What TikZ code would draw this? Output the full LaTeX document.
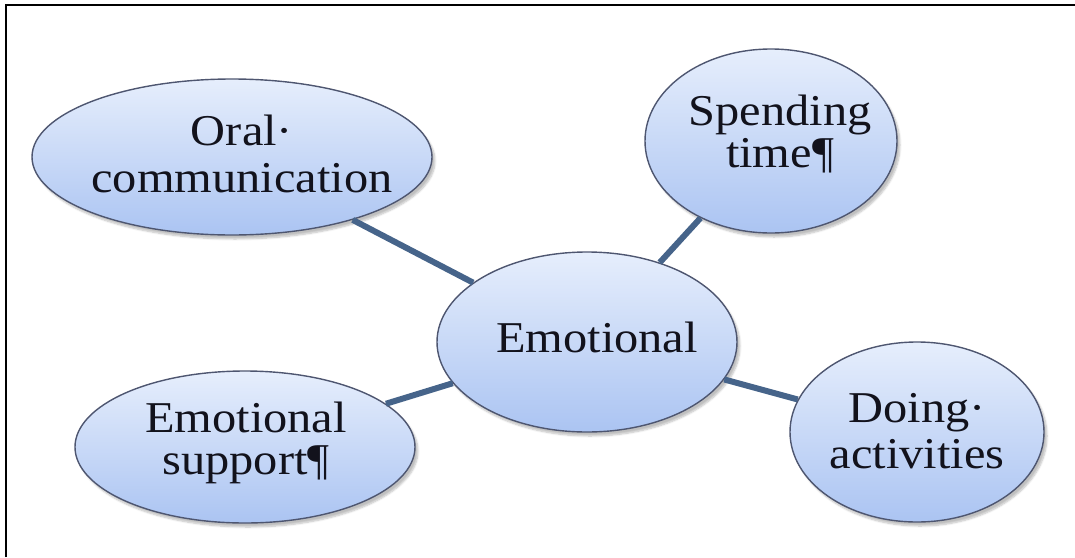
\documentclass[tikz,border=0pt]{standalone}
\usepackage{fontspec}
\setmainfont{Liberation Serif}[FakeStretch=1.1]
\usetikzlibrary{shapes.geometric,shadows.blur}
\definecolor{bubbletop}{HTML}{E6EEFC}
\definecolor{bubblebot}{HTML}{ABC4F2}
\definecolor{bubbleedge}{HTML}{4E5670}
\definecolor{linkcol}{HTML}{46648A}
\definecolor{inkcol}{HTML}{12121C}
\tikzset{
  bubble/.style={ellipse, draw=bubbleedge, line width=1.4pt, inner sep=0pt,
    top color=bubbletop, bottom color=bubblebot,
    blur shadow={shadow blur steps=6, shadow xshift=3pt, shadow yshift=-4pt, shadow opacity=25}},
  caption/.style={text=inkcol, align=center, inner sep=0pt, anchor=base,
    font=\fontsize{44}{#1}\selectfont},
  caption/.default=46,
  link/.style={draw=linkcol, line width=6pt},
  frameline/.style={line width=2.2pt, black}
}
\begin{document}
\begin{tikzpicture}[x=1pt,y=-1pt]
  \useasboundingbox (0,0) rectangle (1075,557);
  % frame
  \draw[frameline] (6,557) -- (6,5) -- (1075,5);
  % bubbles
  \node[bubble, minimum width=400pt, minimum height=156pt] (oral) at (232,157) {};
  \node[bubble, minimum width=252pt, minimum height=184pt] (spend) at (771,141) {};
  \node[bubble, minimum width=300pt, minimum height=180pt] (emo) at (587,342) {};
  \node[bubble, minimum width=340pt, minimum height=152pt] (supp) at (245,447) {};
  \node[bubble, minimum width=254pt, minimum height=180pt] (doing) at (917,432) {};
  % bubble captions (placed by last baseline)
  \node[caption=47] (oraltxt) at (242,192) {Oral·\\communication};
  \node[caption=42] (spendtxt) at (780,167) {Spending\\time¶};
  \node[caption] (emotxt) at (597,352) {Emotional};
  \node[caption=42] (supptxt) at (246,474) {Emotional\\support¶};
  \node[caption=46] (doingtxt) at (917,468) {Doing·\\activities};
  % links
  \draw[link] (oral) -- (emo);
  \draw[link] (spend) -- (emo);
  \draw[link] (emo) -- (doing);
  \draw[link] (emo) -- (supp);
\end{tikzpicture}
\end{document}
